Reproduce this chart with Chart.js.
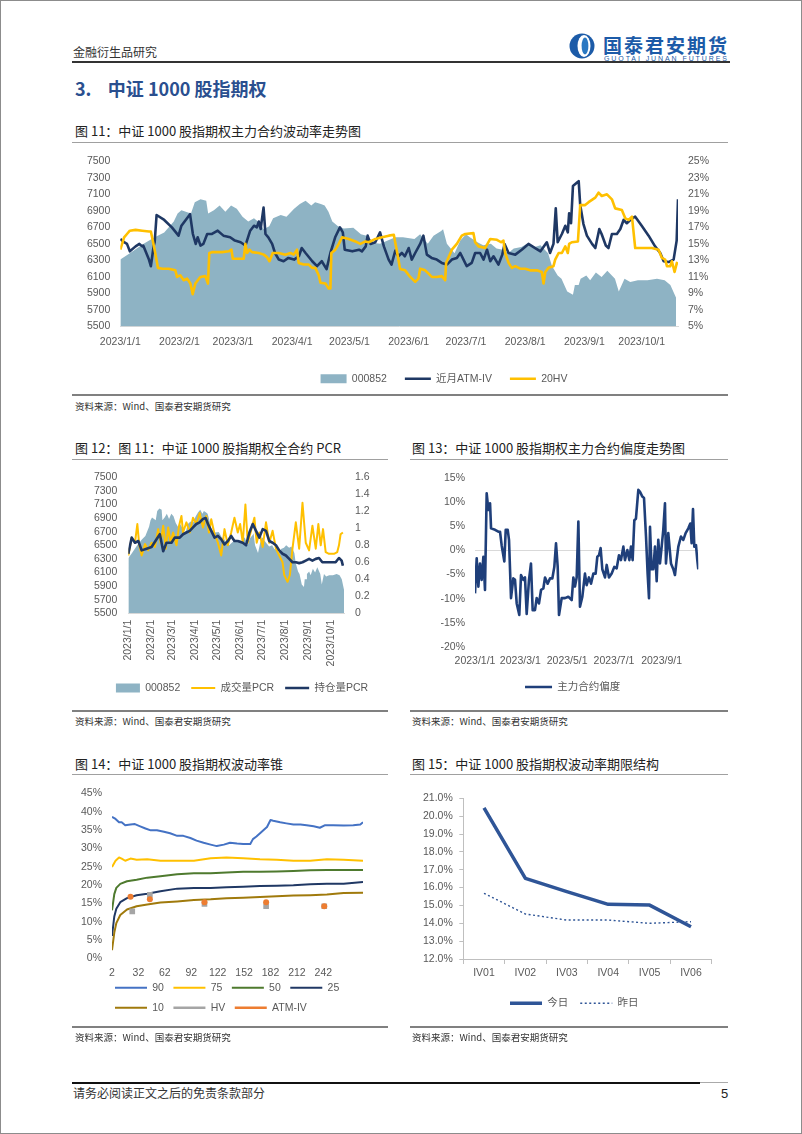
<!DOCTYPE html>
<html>
<head>
<meta charset="utf-8">
<script src="https://cdn.jsdelivr.net/npm/chart.js"></script>
<style>
  body { margin: 0; background: #fff; }
  #page { position: relative; width: 802px; height: 1134px; overflow: hidden; background: #fff; font-family: 'Noto Sans CJK SC', sans-serif; }
  #frame { position: absolute; left: 0; top: 0; width: 802px; height: 1134px; box-sizing: border-box; border: 1px solid #8c8c8c; pointer-events: none; }
  .t { position: absolute; white-space: nowrap; line-height: 1; color: #222; }
  .ttl { font-size: 13px; }
  .src { font-size: 9.5px; color: #333; }
  .ln { position: absolute; }
  canvas { position: absolute; }
</style>
</head>
<body>
<div id="page">
  <div class="t" style="left:73px;top:46px;font-size:12px;color:#333">金融衍生品研究</div>
  <svg style="position:absolute;left:566px;top:31px" width="166" height="32">
    <circle cx="16" cy="15" r="12.5" fill="#1C5BA8"/>
    <ellipse cx="18" cy="15" rx="6.5" ry="11" fill="#fff"/>
    <ellipse cx="19" cy="15" rx="3.4" ry="8.5" fill="#2A78C2"/>
    <text x="37" y="22" font-size="19" font-weight="bold" fill="#1C5BA8" font-family="Noto Sans CJK SC" textLength="124">国泰君安期货</text>
    <text x="38" y="29.5" font-size="7" fill="#1C5BA8" font-family="Liberation Sans" textLength="123">GUOTAI JUNAN FUTURES</text>
  </svg>
  <div class="ln" style="left:72px;top:61px;width:658px;height:2px;background:#333"></div>
  <div class="t" style="left:75px;top:79px;font-size:18px;font-weight:bold;color:#2A4F8F">3.&nbsp;&nbsp;&nbsp;&nbsp;中证 1000 股指期权</div>

  <div class="t ttl" style="left:75px;top:123.5px">图 11：中证 1000 股指期权主力合约波动率走势图</div>
  <div class="ln" style="left:72px;top:142px;width:656px;height:1px;background:#a0a0a0"></div>
  <canvas id="c11" width="656" height="250" style="left:72px;top:145px"></canvas>
  <div class="ln" style="left:72px;top:394px;width:656px;height:2px;background:#808080"></div>
  <div class="t src" style="left:75px;top:402px">资料来源：Wind、国泰君安期货研究</div>

  <div class="t ttl" style="left:75px;top:440.5px">图 12：图 11：中证 1000 股指期权全合约 PCR</div>
  <div class="ln" style="left:72px;top:459px;width:316px;height:1px;background:#a0a0a0"></div>
  <canvas id="c12" width="316" height="250" style="left:72px;top:460px"></canvas>
  <div class="ln" style="left:72px;top:710px;width:316px;height:2px;background:#808080"></div>
  <div class="t src" style="left:75px;top:717px">资料来源：Wind、国泰君安期货研究</div>

  <div class="t ttl" style="left:412px;top:440.5px">图 13：中证 1000 股指期权主力合约偏度走势图</div>
  <div class="ln" style="left:410px;top:459px;width:318px;height:1px;background:#a0a0a0"></div>
  <canvas id="c13" width="318" height="250" style="left:410px;top:460px"></canvas>
  <div class="ln" style="left:410px;top:710px;width:318px;height:2px;background:#808080"></div>
  <div class="t src" style="left:412px;top:717px">资料来源：Wind、国泰君安期货研究</div>

  <div class="t ttl" style="left:75px;top:756.5px">图 14：中证 1000 股指期权波动率锥</div>
  <div class="ln" style="left:72px;top:774px;width:316px;height:1px;background:#a0a0a0"></div>
  <canvas id="c14" width="316" height="254" style="left:72px;top:777px"></canvas>
  <div class="ln" style="left:72px;top:1026px;width:316px;height:2px;background:#808080"></div>
  <div class="t src" style="left:75px;top:1033px">资料来源：Wind、国泰君安期货研究</div>

  <div class="t ttl" style="left:412px;top:756.5px">图 15：中证 1000 股指期权波动率期限结构</div>
  <div class="ln" style="left:410px;top:774px;width:318px;height:1px;background:#a0a0a0"></div>
  <canvas id="c15" width="318" height="245" style="left:410px;top:777px"></canvas>
  <div class="ln" style="left:410px;top:1026px;width:318px;height:2px;background:#808080"></div>
  <div class="t src" style="left:412px;top:1033px">资料来源：Wind、国泰君安期货研究</div>

  <div class="ln" style="left:72px;top:1082px;width:628px;height:2px;background:#111"></div>
  <div class="ln" style="left:700px;top:1082px;width:28px;height:1px;background:#aaa"></div>
  <div class="t" style="left:73px;top:1087px;font-size:12px;color:#333">请务必阅读正文之后的免责条款部分</div>
  <div class="t" style="left:721px;top:1086.5px;font-size:13px;font-family:'Liberation Sans';color:#222">5</div>
  <div id="frame"></div>
</div>

<script>
// x positions are days counted from 2023/1/1
const MONTH_DAYS = [0, 31, 59, 90, 120, 151, 181, 212, 243, 273];
const MONTH_LABELS = ['2023/1/1', '2023/2/1', '2023/3/1', '2023/4/1', '2023/5/1', '2023/6/1', '2023/7/1', '2023/8/1', '2023/9/1', '2023/10/1'];
const SKEW_TICK_DAYS = [2, 61, 122, 183, 245];
const SKEW_TICK_LABELS = ['2023/1/1', '2023/3/1', '2023/5/1', '2023/7/1', '2023/9/1'];
const CONE_TICKS = [2, 32, 62, 92, 122, 152, 182, 212, 242];
const TERM_CATS = ['IV01', 'IV02', 'IV03', 'IV04', 'IV05', 'IV06'];

// 000852 index level
const idxSeries = [[0,6310],[5,6386],[12,6500],[18,6580],[23,6637],[28,6772],[30,6869],[32,6907],[37,6869],[39,7003],[42,7042],[45,7023],[46,6869],[49,6907],[52,6965],[55,6888],[58,6965],[61,6927],[64,6829],[67,6772],[70,6810],[73,6753],[75,6676],[78,6714],[80,6810],[84,6849],[87,6829],[91,6927],[94,6984],[97,7023],[100,6965],[102,7003],[105,6984],[107,6965],[109,6888],[111,6772],[114,6714],[117,6687],[122,6695],[126,6618],[129,6599],[133,6510],[136,6502],[140,6540],[144,6580],[148,6579],[154,6560],[157,6618],[161,6502],[164,6598],[168,6656],[169,6676],[171,6502],[175,6386],[178,6540],[181,6618],[183,6579],[187,6521],[190,6483],[194,6502],[197,6444],[201,6425],[203,6386],[206,6444],[210,6463],[213,6502],[217,6463],[220,6483],[224,6386],[226,6232],[229,6116],[231,6078],[234,5924],[237,5885],[238,6001],[240,6001],[241,6078],[244,6116],[246,6059],[249,6155],[252,6098],[255,6175],[259,6078],[261,5924],[264,6078],[267,6040],[271,6059],[276,6059],[281,6078],[285,6059],[288,6001],[291,5847]];

// near-month ATM implied vol, %
const atmIvSeries = [[0,15.6],[2,15.2],[3.5,15.0],[5,14.1],[8,14.7],[10,15.0],[11.5,14.7],[12,14.8],[15,13.1],[16,12.3],[17.5,14.8],[18,15.2],[19,18.5],[23,17.9],[27,17.0],[30.5,16.0],[32,17.2],[36.5,18.6],[38,16.2],[39.5,15.0],[40.5,15.8],[42,14.8],[43.5,15.0],[45.5,16.2],[48,16.2],[51,16.6],[54,16.0],[57.5,15.8],[60,15.4],[63,15.2],[65.5,14.8],[68,16.6],[70,17.2],[71.5,17.0],[72.5,17.7],[73.5,16.8],[74,17.7],[75,19.4],[76,16.2],[77.5,15.8],[79.5,15.0],[81,13.9],[83,13.1],[85.5,12.9],[88,13.3],[91,13.1],[93.5,13.5],[95,14.5],[97,13.9],[100.5,12.9],[103,12.3],[105.5,12.9],[108,11.95],[110,13.9],[112.5,15.8],[115,17.0],[116.5,16.4],[117.5,14.3],[121.5,14.1],[125,14.3],[126.5,14.1],[128.5,14.7],[129.5,16.0],[131,15.0],[133.5,15.2],[136,16.4],[138,14.7],[140.5,13.1],[142,12.5],[144,14.2],[145.6,13.5],[147.4,13.9],[149,13.5],[151,14.5],[152.6,13.1],[154.4,13.9],[157,15.0],[158.7,16.0],[160.5,13.7],[163,13.3],[165.7,13.1],[168.3,12.7],[171,12.5],[173.6,13.1],[176.2,13.3],[178,13.9],[179.7,13.1],[181.4,12.3],[184,12.7],[185.8,13.9],[188.4,13.9],[190.2,13.1],[192,14.3],[193.7,12.9],[195.4,13.5],[198,12.5],[200,13.7],[201.2,15.0],[203.3,13.9],[206.8,13.7],[210.2,14.3],[213.7,15.0],[217.2,14.5],[220,14.1],[223.3,15.2],[225,13.9],[226.8,15.0],[228,19.3],[229,15.2],[231.2,16.2],[233,17.2],[234.3,16.4],[235,18.7],[236,17.5],[237,22.0],[239,22.4],[240,22.6],[240.8,19.7],[242.5,17.4],[244.3,16.0],[247,15.0],[248.7,14.5],[250.8,16.8],[252,16.2],[254.2,14.8],[255.6,14.5],[257.4,16.2],[260,16.2],[261.8,16.8],[263.5,17.9],[265.2,17.5],[268,18.1],[269.6,18.3],[273,17.2],[276.6,16.0],[280,14.7],[282.7,13.9],[284.5,12.9],[287,12.8],[289.7,13.1],[291.3,15.4],[292,20.4]];

// 20-day historical vol, %
const hv20Series = [[0,14.3],[2,15.8],[3.5,16.2],[5,16.6],[8,16.7],[11.5,16.6],[15,16.5],[16,16.5],[17,15.4],[18.3,13.9],[19.7,12.1],[22,12.0],[25.3,12.0],[28.8,11.8],[29.7,11.0],[31.4,11.2],[33.2,10.6],[35,10.8],[36.7,10.2],[37.9,8.9],[39.3,10.2],[41.9,11.0],[44.5,11.1],[45.9,10.2],[46.6,13.9],[48,14.0],[53.3,14.0],[56.8,14.1],[58.2,14.3],[58.9,13.2],[64.6,13.2],[65.5,15.0],[66.4,13.9],[67.6,14.3],[69,14.0],[72.5,13.9],[75.1,13.7],[76.8,13.4],[78.1,12.9],[79.8,13.9],[83,13.9],[86.4,13.7],[89.1,13.9],[90.8,13.7],[92.5,14.3],[93.4,12.7],[96,12.5],[98.7,12.5],[100.4,12.1],[102.1,12.1],[103.9,11.2],[104.8,10.3],[107.4,10.2],[109.1,9.6],[110,9.6],[110.5,13.9],[112.6,14.3],[114.4,15.0],[116.1,15.8],[119.6,15.6],[123.1,15.3],[125.7,15.0],[128.3,15.3],[130.1,15.2],[133.6,15.6],[137.1,15.8],[140.6,16.0],[143.2,16.1],[145,13.9],[146.5,11.95],[149.1,11.8],[151.8,11.0],[154.4,10.4],[156.1,10.8],[157,12.0],[159.6,11.8],[161.4,11.4],[163.1,11.0],[165.7,11.0],[168.3,11.1],[170.1,10.6],[170.6,12.7],[173.6,14.3],[176.2,15.0],[178.8,16.0],[180.6,16.2],[184.9,16.3],[185.8,15.2],[187.6,14.7],[191,14.5],[193.7,15.6],[197.2,15.5],[199.4,15.2],[200.6,15.4],[201.5,13.9],[203.3,12.7],[205,12.1],[206.8,12.3],[209.4,12.0],[212,12.0],[214.6,11.8],[218.1,11.8],[220.7,11.6],[221.6,10.2],[222.5,11.6],[224.2,12.1],[226.8,12.3],[227.7,13.1],[229.5,13.9],[231.2,13.9],[233,14.7],[234.3,13.9],[235,15.0],[236.4,15.2],[239.6,15.3],[240.8,19.7],[243.4,19.7],[245.2,20.05],[248.7,20.6],[250.4,21.2],[252.1,20.8],[254.8,21.0],[257.4,20.4],[259.1,19.3],[262.6,19.1],[264.4,18.1],[266.1,17.9],[267.9,18.3],[269.6,14.5],[273.1,14.5],[278.3,14.5],[281.8,14.3],[283.6,13.3],[285.3,13.1],[286.2,12.3],[287.9,12.3],[288.8,12.9],[290.2,11.6],[291.4,12.7],[292,12.5]];

// put/call ratios, all contracts
const volumePcrSeries = [[0,0.68],[4.6,0.89],[9,0.83],[12.2,1.05],[14.8,0.80],[18,0.68],[22.5,0.815],[26.9,0.74],[31.4,0.83],[35.9,0.78],[40.3,0.99],[43.5,0.83],[47.1,1.03],[50.6,0.76],[53.8,1.01],[56.9,0.83],[60.5,0.95],[65,0.80],[68.5,1.03],[71.7,1.145],[73.9,0.95],[78.4,1.07],[82.9,0.95],[87.3,1.125],[91.8,1.05],[96.3,1.18],[100.7,1.01],[105.2,1.145],[108.8,0.95],[111.9,1.107],[116.4,0.93],[120.9,0.83],[125.4,0.68],[129.8,0.99],[134.3,0.80],[138.8,0.95],[143.2,1.125],[147.7,0.95],[150.9,1.05],[154.4,0.83],[158,1.28],[161.1,0.83],[165.6,0.97],[170.1,1.125],[173.2,0.83],[176.8,0.95],[181.3,0.78],[185.8,1.07],[190.2,0.83],[194.7,0.97],[199.2,0.76],[203.6,0.68],[208.1,0.60],[210.4,0.45],[214.8,0.37],[218,0.45],[221.5,0.76],[226,1.07],[230.5,0.76],[235,1.30],[239.4,0.83],[243.9,0.74],[248.4,1.03],[252.9,0.76],[256.4,1.05],[259.6,0.80],[262.7,0.99],[266.3,0.72],[270.8,0.70],[277.5,0.70],[281.9,0.72],[284.2,0.80],[286.4,0.93],[289.5,0.95]];
const oiPcrSeries = [[0,0.70],[4.6,0.89],[9,0.83],[13.5,0.85],[18,0.74],[24.7,0.76],[31.4,0.78],[38.1,0.87],[42.6,0.93],[47.1,0.73],[51.5,0.83],[58.2,0.83],[62.7,0.89],[69.4,0.89],[73.9,0.93],[78.4,0.95],[82.9,0.97],[87.3,1.01],[91.8,1.05],[96.3,1.07],[100.7,1.11],[104.3,1.12],[107.5,1.05],[111.9,0.97],[116.4,0.89],[120.9,0.91],[125.4,0.87],[129.8,0.81],[134.3,0.85],[138.8,0.91],[143.2,0.85],[147.7,0.85],[154.4,0.83],[158.9,0.80],[163.4,0.95],[167.9,1.05],[172.3,0.97],[176.8,0.89],[181.3,0.99],[185.8,0.97],[190.2,0.85],[194.7,0.83],[199.2,0.80],[203.6,0.74],[208.1,0.70],[212.6,0.68],[217.1,0.64],[221.5,0.60],[226,0.60],[230.5,0.59],[235,0.60],[239.4,0.62],[243.9,0.64],[248.4,0.62],[252.9,0.64],[257.3,0.65],[261.8,0.60],[266.3,0.60],[273,0.60],[279.7,0.60],[284.2,0.65],[287.8,0.62],[289.5,0.56]];

// main contract skew, %
const skewSeries = [[2,-8.9],[4.2,-1.6],[6.4,-7.5],[8.5,-2.7],[10.7,-6.1],[12.9,-1.3],[15,-8.2],[17.2,11.9],[19.4,8.4],[21.6,9.8],[22.9,4.6],[28.1,4.3],[32.4,3.9],[34.6,3.9],[36.7,1.1],[40.2,-2.3],[42,4.3],[44.6,4.3],[46.3,2.2],[48.9,-9.9],[51.9,-5.8],[54.1,-6.1],[56.3,-11.0],[59.7,-13.4],[61.9,-5.1],[65,-6.1],[67.1,-5.6],[69.3,-13.2],[72.3,-6.1],[74.9,-2.7],[77.1,-12.4],[80.1,-12.4],[82.3,-9.9],[85.3,-11.0],[88,-8.2],[91,-7.9],[93.2,-5.6],[96.6,-6.9],[99.7,-5.8],[102.7,-5.8],[105.3,-3.4],[107.5,1.5],[109.7,-3.4],[111.4,-13.4],[114.9,-9.9],[119.2,-9.9],[123.5,-9.6],[127.9,-10.3],[130.1,-5.6],[132.2,-7.5],[134.4,-5.6],[136.6,6.0],[138.7,-11.7],[141.8,-9.6],[145.2,-4.8],[147.4,-7.2],[150.4,-5.6],[153.1,-6.9],[156.1,-4.8],[159.1,-4.8],[161.3,-1.3],[163.5,-1.0],[165.6,0.5],[167.8,-3.9],[171.3,-5.6],[173.5,-3.0],[176.5,-5.6],[180,-4.8],[183.4,-3.4],[186.5,-3.7],[189.5,-1.0],[192.1,-2.0],[195.2,0.8],[197.3,-2.0],[200.4,0.1],[203,-2.0],[205.1,0.8],[207.3,-2.0],[209.5,6.3],[211.6,6.6],[214.7,12.6],[216.9,12.2],[219.9,11.2],[222.1,10.9],[224.7,2.9],[226.8,-4.8],[228.6,-9.9],[229.9,4.9],[232,-3.9],[234.2,-3.9],[236.4,0.8],[238.6,-6.4],[240.7,2.2],[242.9,-2.7],[245.1,0.8],[247.2,4.3],[249.4,9.8],[250.7,-2.7],[253.7,3.6],[257.2,-2.7],[260.3,-3.9],[262.4,-5.1],[264.6,-2.0],[266.8,0.8],[270.2,2.9],[273.3,2.2],[276.3,3.6],[279.8,4.6],[282.4,5.6],[284.1,1.5],[285.9,8.6],[287.6,0.8],[289.8,1.1],[291.5,-2.0],[292.8,-3.9]];

// volatility cone, x = holding days, y = %
const cone90 = [[2,38.6],[6,38.0],[10,37.1],[13,37.1],[17,36.3],[23,36.5],[28,36.6],[34,36.0],[40,35.4],[46,34.9],[53,34.9],[61,34.5],[68,34.1],[76,33.4],[83,33.4],[91,32.8],[98,32.1],[106,31.5],[114,31.0],[121,30.6],[129,31.0],[136,31.5],[144,31.3],[151,31.2],[159,31.2],[162,32.5],[166,33.2],[172,34.5],[178,35.8],[182,37.7],[185,37.5],[193,37.1],[200,36.8],[208,36.5],[216,36.5],[223,36.3],[231,36.0],[238,35.6],[244,36.3],[253,36.3],[265,36.2],[276,36.3],[284,36.5],[287,37.1]];
const cone75 = [[2,24.9],[6,26.6],[10,27.5],[13,27.2],[17,26.6],[23,27.2],[30,26.9],[42,27.0],[57,26.6],[76,26.6],[95,26.6],[114,27.3],[132,27.5],[151,27.3],[170,27.0],[189,26.9],[208,26.6],[227,26.6],[246,27.0],[265,26.9],[287,26.6]];
const cone50 = [[2,13.1],[4.6,17.5],[6.9,19.2],[11.4,20.3],[19,21.0],[30,21.4],[42,22.0],[57,22.4],[76,22.9],[95,23.2],[114,23.2],[132,23.4],[151,23.6],[170,23.6],[189,23.7],[208,23.8],[227,24.0],[246,24.1],[265,24.1],[287,24.1]];
const cone25 = [[2,6.1],[4.6,11.4],[6.9,13.5],[11.4,15.3],[19,16.4],[30,17.2],[42,17.6],[57,18.3],[76,19.0],[95,19.2],[114,19.2],[132,19.4],[151,19.5],[170,19.7],[189,19.8],[208,19.9],[227,20.2],[246,20.3],[265,20.3],[287,20.8]];
const cone10 = [[2,2.2],[4.6,7.0],[6.9,9.6],[11.4,11.8],[19,13.3],[30,14.2],[42,14.7],[57,15.2],[76,15.5],[95,15.9],[114,16.1],[132,16.4],[151,16.5],[170,16.7],[189,16.9],[208,17.1],[227,17.2],[246,17.4],[265,17.8],[287,17.9]];
const coneHv = [[25,12.8],[45,17.3],[107,14.8],[177,14.2],[243,14.2]];
const coneAtmIv = [[23,16.8],[45,16.1],[107,15.3],[177,15.3],[243,14.2]];

// term structure, %
const termToday = [20.47, 16.52, 15.77, 15.06, 15.02, 13.81];
const termYesterday = [15.68, 14.52, 14.18, 14.18, 14.0, 14.09];

const AREA = '#8EB3C4';
const NAVY = '#1F3864';
const GOLD = '#FFC000';
const TICK = '#595959';

Chart.defaults.font.family = "'Liberation Sans', 'Noto Sans CJK SC', sans-serif";
Chart.defaults.font.size = 10.5;
Chart.defaults.color = TICK;

// moves the legend box after layout so it sits where the original has it
Chart.register({
  id: 'legendShift',
  afterLayout(chart, args, opts) {
    const lg = chart.legend;
    if (!lg) return;
    const dx = opts.dx || 0, dy = opts.dy || 0;
    lg.left += dx; lg.right += dx;
    lg.top += dy; lg.bottom += dy;
  }
});

const xy = arr => arr.map(([x, y]) => ({ x, y }));
const noGrid = { display: false, drawTicks: false };

function legendLabels(chart) {
  const items = Chart.defaults.plugins.legend.labels.generateLabels(chart);
  items.forEach(it => {
    const ds = chart.data.datasets[it.datasetIndex];
    if (ds.legendStyle === 'rect') {
      it.pointStyle = 'rect';
      it.fillStyle = ds.backgroundColor;
      it.lineWidth = 0;
    } else {
      it.pointStyle = 'line';
      it.strokeStyle = ds.borderColor || ds.backgroundColor;
      it.lineWidth = ds.legendWidth || ds.borderWidth || 2;
      it.lineDash = ds.borderDash || [];
    }
  });
  return items.sort((a, b) => a.datasetIndex - b.datasetIndex);
}

function legendOpts(pad, boxW, align) {
  return {
    position: 'bottom',
    align: align || 'center',
    labels: {
      usePointStyle: true, pointStyleWidth: boxW, boxHeight: 9, padding: pad,
      color: TICK, font: { size: 10.5 }, generateLabels: legendLabels
    }
  };
}

function dateAxis(min, max, days, labels, height, pad, rot) {
  return {
    type: 'linear', min: min, max: max,
    grid: noGrid,
    border: { display: true, color: '#D9D9D9' },
    ticks: { padding: pad, autoSkip: false, maxRotation: rot, minRotation: rot, callback: (v, i) => labels[i] },
    afterBuildTicks: s => { s.ticks = days.map(v => ({ value: v })); },
    afterFit: s => { s.height = height; }
  };
}

function valueAxis(pos, min, max, step, pad, width, fmt) {
  return {
    position: pos, min: min, max: max,
    grid: noGrid,
    border: { display: false },
    ticks: { stepSize: step, padding: pad, autoSkip: false, callback: fmt },
    afterFit: s => { s.width = width; }
  };
}

const base = {
  responsive: false,
  animation: false,
  events: [],
  elements: { line: { tension: 0, borderJoinStyle: 'round' }, point: { radius: 0 } }
};

// 图 11
new Chart(document.getElementById('c11'), {
  type: 'line',
  data: {
    datasets: [
      { label: '000852', data: xy(idxSeries), yAxisID: 'y', fill: 'start', backgroundColor: AREA, borderWidth: 0, order: 3, legendStyle: 'rect' },
      { label: '近月ATM-IV', data: xy(atmIvSeries), yAxisID: 'y1', borderColor: NAVY, borderWidth: 2.6, order: 2 },
      { label: '20HV', data: xy(hv20Series), yAxisID: 'y1', borderColor: GOLD, borderWidth: 2.6, order: 1 }
    ]
  },
  options: Object.assign({}, base, {
    layout: { padding: { top: 9, bottom: 1, left: 0, right: 0 } },
    plugins: { legend: legendOpts(18, 26), legendShift: { dx: 44 }, tooltip: { enabled: false } },
    scales: {
      x: dateAxis(0, 292, MONTH_DAYS, MONTH_LABELS, 29, 9, 0),
      y: valueAxis('left', 5500, 7500, 200, 10, 48.3, v => String(v)),
      y1: valueAxis('right', 5, 25, 2, 10, 50, v => v + '%')
    }
  })
});

// 图 12
new Chart(document.getElementById('c12'), {
  type: 'line',
  data: {
    datasets: [
      { label: '000852', data: xy(idxSeries), yAxisID: 'y', fill: 'start', backgroundColor: AREA, borderWidth: 0, order: 3, legendStyle: 'rect' },
      { label: '成交量PCR', data: xy(volumePcrSeries), yAxisID: 'y1', borderColor: GOLD, borderWidth: 2, order: 2 },
      { label: '持仓量PCR', data: xy(oiPcrSeries), yAxisID: 'y1', borderColor: NAVY, borderWidth: 2.6, order: 1 }
    ]
  },
  options: Object.assign({}, base, {
    layout: { padding: { top: 16, bottom: 6.75, left: 0, right: 0 } },
    plugins: { legend: legendOpts(11, 24), legendShift: { dx: 12 }, tooltip: { enabled: false } },
    scales: {
      x: dateAxis(0, 291, MONTH_DAYS, MONTH_LABELS, 58.5, 6.5, 90),
      y: valueAxis('left', 5500, 7500, 200, 11, 56.3, v => String(v)),
      y1: valueAxis('right', 0, 1.6, 0.2, 11, 44, v => String(+v.toFixed(1)))
    }
  })
});

// 图 13
const skewX = dateAxis(2, 292.8, SKEW_TICK_DAYS, SKEW_TICK_LABELS, 25, 8, 0);
skewX.border = { display: false };
new Chart(document.getElementById('c13'), {
  type: 'line',
  data: {
    datasets: [
      { label: '主力合约偏度', data: xy(skewSeries), borderColor: '#1F3F7A', borderWidth: 2.6 }
    ]
  },
  options: Object.assign({}, base, {
    layout: { padding: { top: 18.3, bottom: 7.75, left: 0, right: 29.7 } },
    plugins: { legend: legendOpts(10, 27), legendShift: { dx: 18.5 }, tooltip: { enabled: false } },
    scales: {
      x: skewX,
      y: {
        min: -20, max: 15,
        grid: { display: true, drawTicks: false, color: c => (c.tick && c.tick.value === 0) ? '#D9D9D9' : 'rgba(0,0,0,0)' },
        border: { display: false },
        ticks: { stepSize: 5, padding: 10, autoSkip: false, callback: v => v + '%' },
        afterFit: s => { s.width = 65; }
      }
    }
  })
});

// 图 14
const coneX = {
  type: 'linear', min: 2, max: 287,
  grid: noGrid, border: { display: false },
  ticks: { padding: 8.5, autoSkip: false, maxRotation: 0, minRotation: 0, callback: v => String(v) },
  afterBuildTicks: s => { s.ticks = CONE_TICKS.map(v => ({ value: v })); },
  afterFit: s => { s.height = 22; }
};
new Chart(document.getElementById('c14'), {
  type: 'line',
  data: {
    datasets: [
      { label: '90', data: xy(cone90), borderColor: '#4472C4', borderWidth: 2, order: 7 },
      { label: '75', data: xy(cone75), borderColor: '#FFC000', borderWidth: 2, order: 6 },
      { label: '50', data: xy(cone50), borderColor: '#4E7A2E', borderWidth: 2, order: 5 },
      { label: '25', data: xy(cone25), borderColor: '#203864', borderWidth: 2, order: 4 },
      { label: '10', data: xy(cone10), borderColor: '#A07A0C', borderWidth: 2, order: 3 },
      { label: 'HV', data: xy(coneHv), showLine: false, borderColor: '#A5A5A5', backgroundColor: '#A5A5A5', pointStyle: 'rect', pointRadius: 4, pointBorderWidth: 0, legendWidth: 2.5, order: 2 },
      { label: 'ATM-IV', data: xy(coneAtmIv), showLine: false, borderColor: '#ED7D31', backgroundColor: '#ED7D31', pointStyle: 'circle', pointRadius: 3, pointBorderWidth: 0, legendWidth: 2.5, order: 1 }
    ]
  },
  options: Object.assign({}, base, {
    layout: { padding: { top: 9.7, bottom: 0.7, left: 0, right: 25 } },
    plugins: { legend: legendOpts(9.5, 32, 'start'), legendShift: { dx: 33.5, dy: -7.3 }, tooltip: { enabled: false } },
    scales: {
      x: coneX,
      y: valueAxis('left', 0, 45, 5, 10, 40, v => v + '%')
    }
  })
});

// 图 15
new Chart(document.getElementById('c15'), {
  type: 'line',
  data: {
    labels: TERM_CATS,
    datasets: [
      { label: '今日', data: termToday, borderColor: '#2F5597', borderWidth: 3.5 },
      { label: '昨日', data: termYesterday, borderColor: '#2F5597', borderWidth: 1.4, borderDash: [2, 2.5] }
    ]
  },
  options: Object.assign({}, base, {
    layout: { padding: { top: 21.3, bottom: 3.5, left: 0, right: 16.3 } },
    plugins: { legend: legendOpts(12, 32), legendShift: { dx: 13.4 }, tooltip: { enabled: false } },
    scales: {
      x: {
        type: 'category', offset: true,
        grid: { display: true, drawOnChartArea: false, drawTicks: true, tickLength: 5, offset: true, color: '#BFBFBF' },
        border: { display: true, color: '#BFBFBF' },
        ticks: { padding: 3 },
        afterFit: s => { s.height = 27; }
      },
      y: {
        min: 12, max: 21,
        grid: { display: true, drawOnChartArea: false, drawTicks: true, tickLength: 4, color: '#BFBFBF' },
        border: { display: true, color: '#BFBFBF' },
        ticks: { stepSize: 1, padding: 6.5, autoSkip: false, callback: v => v.toFixed(1) + '%' },
        afterFit: s => { s.width = 53.3; }
      }
    }
  })
});
</script>
</body>
</html>
